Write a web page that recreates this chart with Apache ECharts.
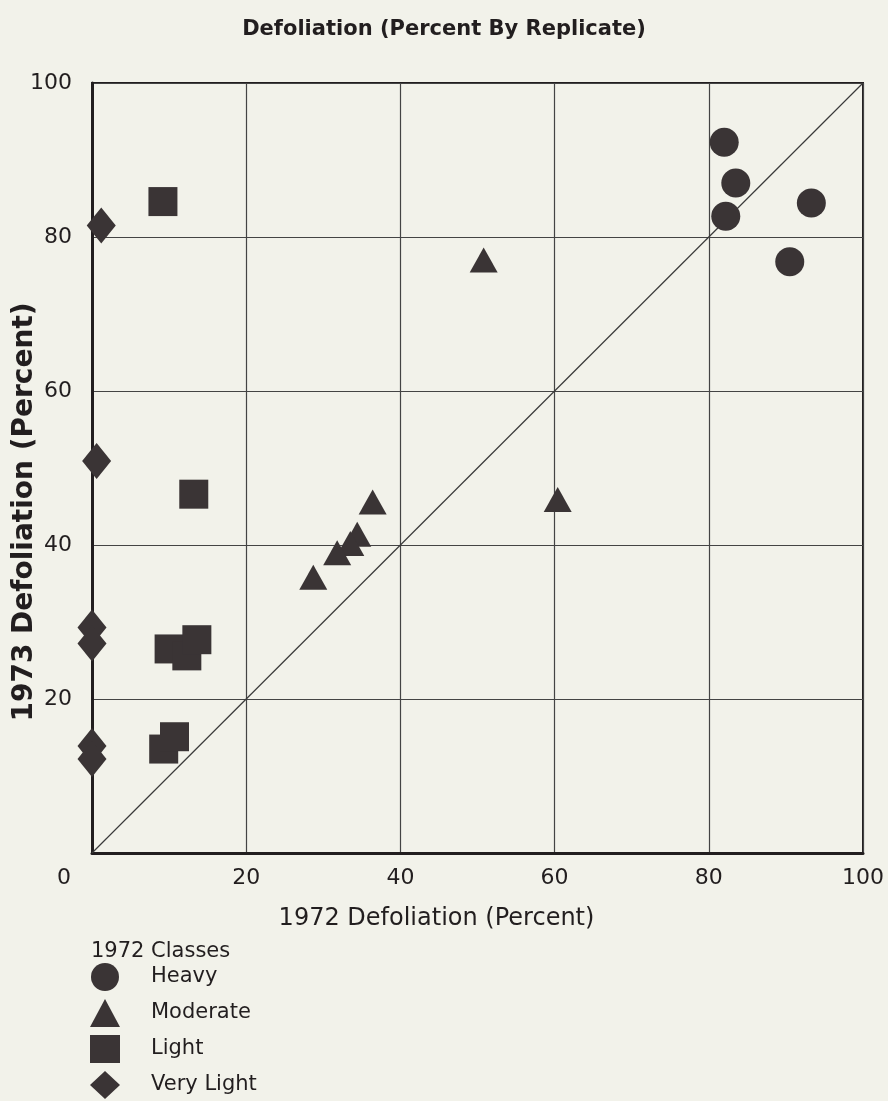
<!DOCTYPE html>
<html>
<head>
<meta charset="utf-8">
<script src="https://cdn.jsdelivr.net/npm/echarts@6/dist/echarts.min.js"></script>
<style>
html,body{margin:0;padding:0;background:#f2f2ea;}
#chart{width:888px;height:1101px;}
</style>
</head>
<body>
<div id="chart"></div>
<script>
// ---- data ----
var titleText = 'Defoliation (Percent By Replicate)';
var xAxisName = '1972 Defoliation (Percent)';
var yAxisName = '1973 Defoliation (Percent)';
var legendTitle = '1972 Classes';
var classNames = ['Heavy', 'Moderate', 'Light', 'Very Light'];
var axisTicks = [0, 20, 40, 60, 80, 100];

var heavyX = [82.0, 83.5, 82.2, 93.3, 90.5];
var heavyY = [92.3, 87.0, 82.7, 84.4, 76.8];

var moderateX = [50.8, 36.4, 34.4, 33.5, 31.8, 28.7, 60.4];
var moderateY = [77.0, 45.6, 41.4, 40.2, 39.0, 35.8, 45.9];

var lightX = [9.2, 13.2, 10.0, 12.3, 13.6, 9.3, 10.7];
var lightY = [84.6, 46.6, 26.5, 25.6, 27.7, 13.5, 15.1];

var veryLightX = [1.2, 0.6, 0, 0, 0, 0];
var veryLightY = [81.5, 50.9, 29.3, 27.2, 13.9, 12.2];

var diagonalX = [0, 100];
var diagonalY = [0, 100];

function pairs(xs, ys) { return xs.map(function (v, i) { return [v, ys[i]]; }); }

var ink = '#221e1f';
var markColor = '#3a3435';
var fontFam = '"DejaVu Sans", "Liberation Sans", Arial, sans-serif';

var chart = echarts.init(document.getElementById('chart'), null, {renderer: 'canvas'});

var option = {
  backgroundColor: '#f2f2ea',
  animation: false,
  title: [
    {text: titleText, left: 'center', top: 14,
     textStyle: {fontFamily: fontFam, fontSize: 21, fontWeight: 'bold', color: ink}},
    {text: legendTitle, left: 91, top: 941, padding: 0,
     textStyle: {fontFamily: fontFam, fontSize: 21, fontWeight: 'normal', color: ink}}
  ],
  grid: {left: 92, right: 25, top: 83, bottom: 248, show: true,
         containLabel: false, outerBoundsMode: 'none',
         borderColor: ink, borderWidth: 2, backgroundColor: 'transparent'},
  legend: {
    orient: 'vertical', left: 90, top: 963, itemGap: 8, padding: 0,
    itemWidth: 30, itemHeight: 28, height: 140,
    data: classNames,
    textStyle: {fontFamily: fontFam, fontSize: 21, color: ink, padding: [0, 0, 0, 26]}
  },
  xAxis: {
    type: 'value', min: axisTicks[0], max: axisTicks[axisTicks.length - 1], interval: 20,
    name: xAxisName, nameLocation: 'middle', nameGap: 54, nameMoveOverlap: false,
    nameTextStyle: {fontFamily: fontFam, fontSize: 24, color: ink, padding: [0, 82, 0, 0]},
    axisLine: {show: true, lineStyle: {color: ink, width: 3}},
    axisTick: {show: false},
    splitLine: {show: true, lineStyle: {color: '#444', width: 1.2}},
    axisLabel: {
      fontFamily: fontFam, fontSize: 22, color: ink, margin: 14,
      formatter: function (v) { return v === 0 ? '{z|0}' : String(v); },
      rich: {z: {fontFamily: fontFam, fontSize: 22, color: ink, padding: [0, 56, 0, 0]}}
    }
  },
  yAxis: {
    type: 'value', min: axisTicks[0], max: axisTicks[axisTicks.length - 1], interval: 20,
    name: yAxisName, nameLocation: 'middle', nameGap: 53, nameMoveOverlap: false,
    nameTextStyle: {fontFamily: fontFam, fontSize: 28, fontWeight: 'bold', color: ink, padding: [0, 88, 0, 0]},
    axisLine: {show: true, lineStyle: {color: ink, width: 3}},
    axisTick: {show: false},
    splitLine: {show: true, lineStyle: {color: '#444', width: 1.2}},
    axisLabel: {
      fontFamily: fontFam, fontSize: 22, color: ink, margin: 20,
      formatter: function (v) { return v === 0 ? '' : String(v); }
    }
  },
  series: [
    {name: 'diagonal', type: 'line', data: pairs(diagonalX, diagonalY), symbol: 'none',
     lineStyle: {color: '#3a3a3a', width: 1.2}, silent: true, z: 1},
    {name: classNames[0], type: 'scatter', data: pairs(heavyX, heavyY), symbol: 'circle',
     symbolSize: 29, itemStyle: {color: markColor, opacity: 1}, clip: false, z: 3},
    {name: classNames[1], type: 'scatter', data: pairs(moderateX, moderateY), symbol: 'triangle',
     symbolSize: [28, 25], itemStyle: {color: markColor, opacity: 1}, clip: false, z: 3},
    {name: classNames[2], type: 'scatter', data: pairs(lightX, lightY), symbol: 'rect',
     symbolSize: 29, itemStyle: {color: markColor, opacity: 1}, clip: false, z: 3},
    {name: classNames[3], type: 'scatter', data: pairs(veryLightX, veryLightY), symbol: 'diamond',
     symbolSize: [29, 36], itemStyle: {color: markColor, opacity: 1}, clip: false, z: 3}
  ]
};
chart.setOption(option);
</script>
</body>
</html>
